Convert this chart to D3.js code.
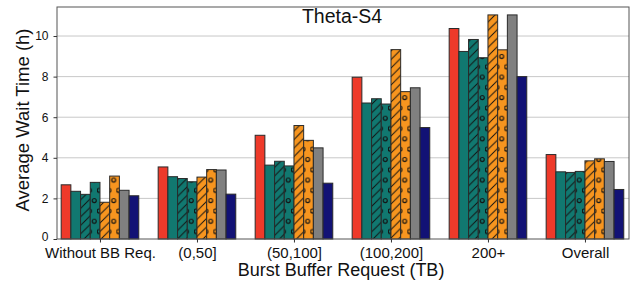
<!DOCTYPE html>
<html><head><meta charset="utf-8">
<script src="https://cdn.jsdelivr.net/npm/d3@7"></script>
<style>body{margin:0;background:#fff}svg{display:block;font-family:"Liberation Sans",Arial,sans-serif}</style>
</head><body><svg id="c" width="636" height="285"></svg>
<script>
const categories = ["Without BB Req.", "(0,50]", "(50,100]", "(100,200]", "200+", "Overall"];
const seriesRed        = [2.67, 3.55, 5.11, 7.97, 10.37, 4.16];
const seriesTeal       = [2.35, 3.07, 3.64, 6.70, 9.24, 3.31];
const seriesTealHatch  = [2.20, 2.98, 3.83, 6.91, 9.83, 3.28];
const seriesTealDots   = [2.79, 2.82, 3.60, 6.65, 8.93, 3.33];
const seriesOrangeHatch= [1.81, 3.05, 5.59, 9.33, 11.04, 3.85];
const seriesOrangeDots = [3.10, 3.42, 4.86, 7.26, 9.32, 3.95];
const seriesGray       = [2.40, 3.40, 4.49, 7.45, 11.04, 3.82];
const seriesNavy       = [2.13, 2.21, 2.75, 5.49, 8.00, 2.44];
const yTicks = [0, 2, 4, 6, 8, 10];
const title = "Theta-S4";
const xLabel = "Burst Buffer Request (TB)";
const yLabel = "Average Wait Time (h)";

const series = [
  {v: seriesRed, color: "#ee3a2a", pat: null},
  {v: seriesTeal, color: "#117870", pat: null},
  {v: seriesTealHatch, color: "#117870", pat: "hatch"},
  {v: seriesTealDots, color: "#117870", pat: "dots"},
  {v: seriesOrangeHatch, color: "#f7951f", pat: "hatch"},
  {v: seriesOrangeDots, color: "#f7951f", pat: "dots"},
  {v: seriesGray, color: "#808080", pat: null},
  {v: seriesNavy, color: "#121275", pat: null}
];

const L = 57, R = 629, T = 7, B = 239;
const svg = d3.select("#c");
const x = d3.scaleLinear().domain([-0.443, 5.454]).range([L, R]);
const y = d3.scaleLinear().domain([0, 11.43]).range([B, T]);
const barW = 0.1;

const defs = svg.append("defs");
const hp = defs.append("pattern").attr("id", "hatch").attr("patternUnits", "userSpaceOnUse")
  .attr("width", 8.5).attr("height", 8.5);
hp.append("path").attr("d", "M0,8.5 L8.5,0 M-2,2 L2,-2 M6.5,10.5 L10.5,6.5")
  .attr("stroke", "#111").attr("stroke-width", 1).attr("fill", "none");
const dp = defs.append("pattern").attr("id", "dots").attr("patternUnits", "userSpaceOnUse")
  .attr("width", 9.7).attr("height", 20.6);
dp.append("circle").attr("cx", 2.2).attr("cy", 5).attr("r", 2).attr("fill", "none").attr("stroke", "#111").attr("stroke-width", 1.1);
dp.append("circle").attr("cx", 7).attr("cy", 15.3).attr("r", 2).attr("fill", "none").attr("stroke", "#111").attr("stroke-width", 1.1);

// grid
svg.append("g").selectAll("line").data(yTicks.filter(d => d > 0)).join("line")
  .attr("x1", L).attr("x2", R).attr("y1", d => y(d)).attr("y2", d => y(d))
  .attr("stroke", "#c8c8c8").attr("stroke-width", 1);

// bars
const gBars = svg.append("g");
series.forEach((s, k) => {
  const g = gBars.append("g");
  s.v.forEach((val, i) => {
    const x0 = x(i + (k - 4) * barW), x1 = x(i + (k - 3) * barW);
    g.append("rect").attr("x", x0).attr("y", y(val)).attr("width", x1 - x0).attr("height", y(0) - y(val))
      .attr("fill", s.color);
    if (s.pat) g.append("rect").attr("x", x0).attr("y", y(val)).attr("width", x1 - x0).attr("height", y(0) - y(val))
      .attr("fill", "url(#" + s.pat + ")");
    g.append("rect").attr("x", x0).attr("y", y(val)).attr("width", x1 - x0).attr("height", y(0) - y(val))
      .attr("fill", "none").attr("stroke", "#2a2a2a").attr("stroke-width", 1);
  });
});

// frame
svg.append("rect").attr("x", L).attr("y", T).attr("width", R - L).attr("height", B - T)
  .attr("fill", "none").attr("stroke", "#555").attr("stroke-width", 1);

// axes
const yAxis = d3.axisLeft(y).tickValues(yTicks).tickSize(3.5).tickPadding(5);
const gy = svg.append("g").attr("transform", `translate(${L},0)`).call(yAxis);
gy.select(".domain").remove();
gy.selectAll("text").attr("font-size", 12).attr("fill", "#111").style("font-family", "Liberation Sans, Arial, sans-serif")
  .attr("dy", d => d === 0 ? "0.12em" : "0.32em");
gy.selectAll("line").attr("stroke", "#333");

const xAxis = d3.axisBottom(x).tickValues(d3.range(categories.length)).tickFormat(i => categories[i]).tickSize(3.5).tickPadding(4.5);
const gx = svg.append("g").attr("transform", `translate(0,${B})`).call(xAxis);
gx.select(".domain").remove();
gx.selectAll("text").attr("font-size", 15).attr("fill", "#111").style("font-family", "Liberation Sans, Arial, sans-serif");
gx.selectAll("line").attr("stroke", "#333");

svg.append("text").attr("x", (L + R) / 2 - 1).attr("y", 23).attr("text-anchor", "middle")
  .attr("font-size", 19.5).attr("fill", "#111").text(title);
svg.append("text").attr("x", (L + R) / 2 - 2).attr("y", 276).attr("text-anchor", "middle")
  .attr("font-size", 18).attr("fill", "#111").text(xLabel);
svg.append("text").attr("transform", `translate(29,120) rotate(-90)`).attr("text-anchor", "middle")
  .attr("font-size", 18.5).attr("fill", "#111").text(yLabel);
</script></body></html>
